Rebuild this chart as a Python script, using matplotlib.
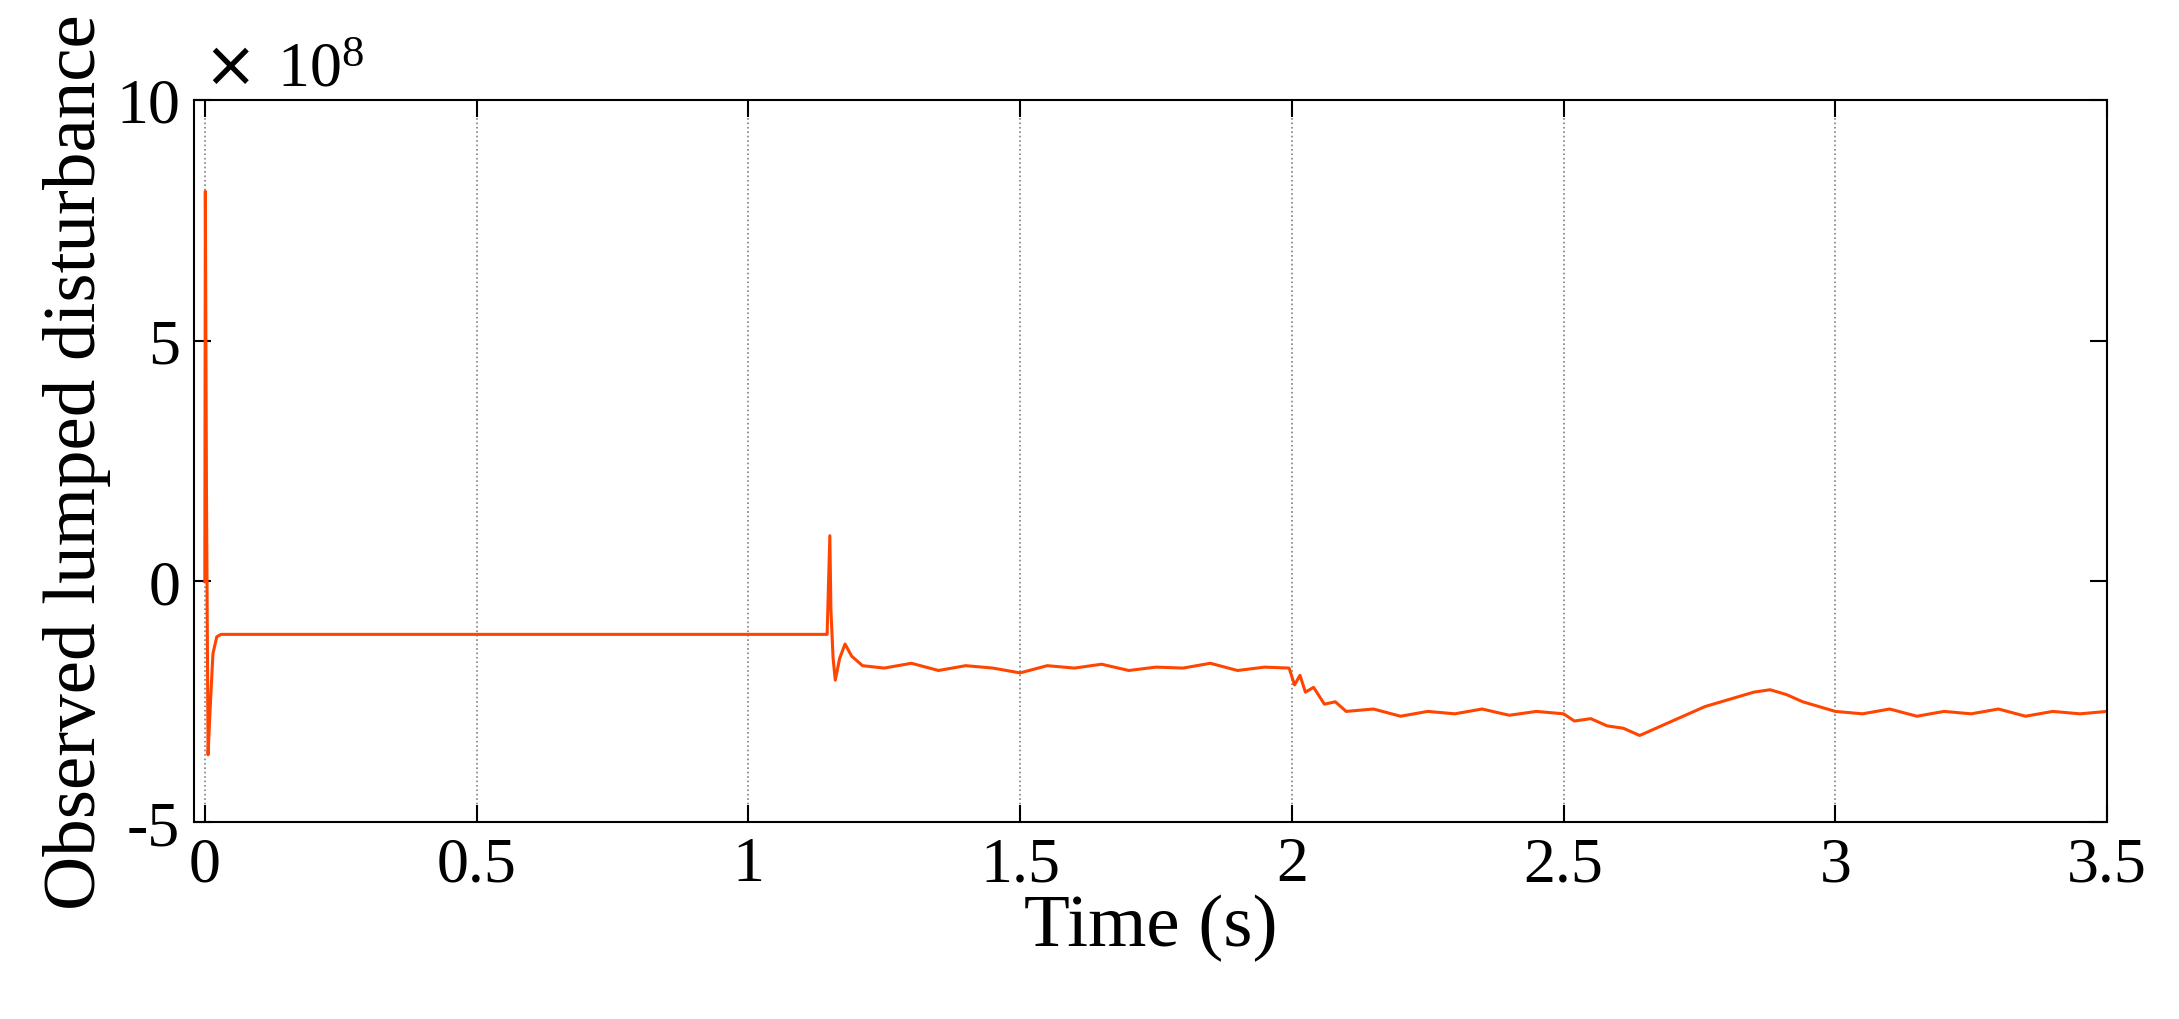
import numpy as np
import matplotlib.pyplot as plt

plt.rcParams['font.family'] = ['Liberation Serif', 'DejaVu Serif']

# observed lumped disturbance, units of 1e8
t = [0.0, 0.001, 0.003, 0.006, 0.010, 0.015, 0.022, 0.030, 0.2, 0.6, 1.0, 1.145,
     1.150, 1.152, 1.156, 1.160, 1.168, 1.178, 1.19, 1.21, 1.25, 1.30, 1.35, 1.40,
     1.45, 1.50, 1.55, 1.60, 1.65, 1.70, 1.75, 1.80, 1.85, 1.90, 1.95, 1.995,
     2.005, 2.015, 2.025, 2.04, 2.06, 2.08, 2.10, 2.15, 2.20, 2.25, 2.30, 2.35,
     2.40, 2.45, 2.50, 2.52, 2.55, 2.58, 2.61, 2.64, 2.67, 2.70, 2.73, 2.76,
     2.79, 2.82, 2.85, 2.88, 2.91, 2.94, 2.97, 3.00, 3.05, 3.10, 3.15, 3.20,
     3.25, 3.30, 3.35, 3.40, 3.45, 3.50]
d = [0.0, 8.1, 2.0, -3.6, -2.6, -1.5, -1.15, -1.1, -1.1, -1.1, -1.1, -1.1,
     0.95, -0.6, -1.6, -2.05, -1.6, -1.3, -1.55, -1.75, -1.8, -1.7, -1.85, -1.75,
     -1.8, -1.9, -1.75, -1.8, -1.72, -1.85, -1.78, -1.8, -1.7, -1.85, -1.78, -1.8,
     -2.15, -1.95, -2.3, -2.2, -2.55, -2.5, -2.7, -2.65, -2.8, -2.7, -2.75, -2.65,
     -2.78, -2.7, -2.75, -2.9, -2.85, -3.0, -3.05, -3.2, -3.05, -2.9, -2.75, -2.6,
     -2.5, -2.4, -2.3, -2.25, -2.35, -2.5, -2.6, -2.7, -2.75, -2.65, -2.8, -2.7,
     -2.75, -2.65, -2.8, -2.7, -2.75, -2.7]

fig = plt.figure(figsize=(21.79, 10.2), dpi=100)
ax = fig.add_axes([0.089, 0.193, 0.878, 0.708])
ax.plot(t, d, color='#ff4500', lw=2.2)
ax.set_xlim(-0.02, 3.5)
ax.set_ylim(-5, 10)
ax.set_xticks([0, 0.5, 1, 1.5, 2, 2.5, 3, 3.5])
ax.set_xticklabels(['0', '0.5', '1', '1.5', '2', '2.5', '3', '3.5'])
ax.set_yticks([-5, 0, 5, 10])
ax.set_yticklabels(['-5', '0', '5', '10'])
ax.grid(True, axis='x', ls=':', color='gray', lw=1.2)
ax.tick_params(direction='in', length=12, width=1.5, labelsize=46, pad=10,
               top=True, right=True)
for s in ax.spines.values():
    s.set_linewidth(1.5)
ax.set_xlabel('Time (s)', fontsize=54, labelpad=0)
ax.set_ylabel('Observed lumped disturbance', fontsize=54, labelpad=4)
ax.text(0.005, 1.0, r'$\times\ \mathregular{10^{8}}$', transform=ax.transAxes,
        fontsize=46, va='bottom', ha='left')

plt.savefig('out.png', dpi=100)
